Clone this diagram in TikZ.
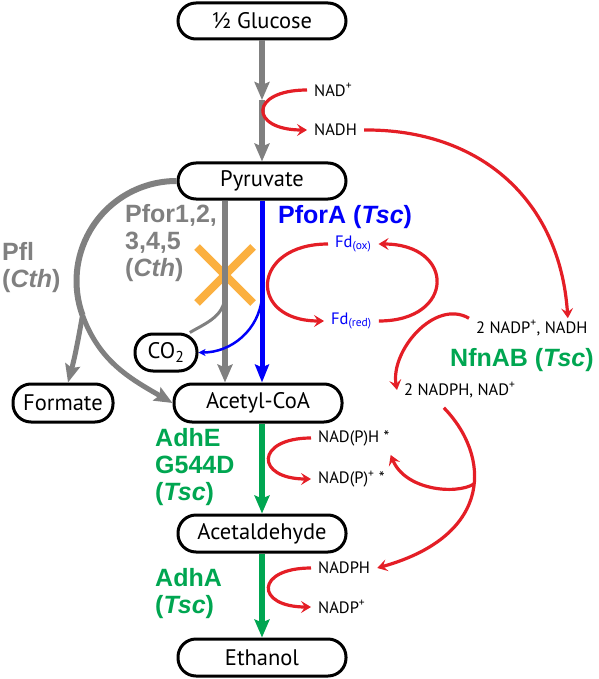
\documentclass[tikz,border=0pt]{standalone}
\usepackage{fontspec}
\setmainfont{PT Sans}
\newfontfamily\labfont{Liberation Sans}
\usetikzlibrary{arrows.meta,positioning}

\definecolor{pathgray}{RGB}{128,128,128}
\definecolor{redox}{RGB}{228,30,38}
\definecolor{pforblue}{RGB}{0,0,250}
\definecolor{adhgreen}{RGB}{0,166,81}
\definecolor{xorange}{RGB}{251,176,64}

\tikzset{
  metab/.style={draw, line width=3pt, rounded corners=18pt, fill=white,
    minimum width=168pt, minimum height=36pt, inner sep=0pt,
    font=\fontsize{22.5}{26}\selectfont},
  cofac/.style={inner xsep=7pt, inner ysep=2pt, anchor=west,
    font=\fontsize{16.5}{19}\selectfont},
  enzyme/.style={inner sep=0pt, align=left, anchor=west,
    font=\labfont\bfseries\fontsize{25}{27}\selectfont},
  thickgray/.style={draw=pathgray, line width=6pt,
    -{Stealth[length=18pt,width=15pt,inset=3pt]}},
  thickblue/.style={draw=pforblue, line width=5pt,
    -{Stealth[length=18pt,width=14pt,inset=3pt]}},
  thickgreen/.style={draw=adhgreen, line width=6pt,
    -{Stealth[length=18pt,width=15pt,inset=3pt]}},
  redarrow/.style={draw=redox, line width=3.2pt,
    -{Stealth[length=10pt,width=12pt,inset=4pt]}},
}

\begin{document}
\begin{tikzpicture}[x=1pt,y=1pt]
    \useasboundingbox (0,0) rectangle (598,-679);

    % Knock-out mark
    \node (xmark) at (225,-275) {};
    \draw[xorange, line width=8pt] ([shift={(-28,28)}]xmark.center) -- ([shift={(28,-28)}]xmark.center);
    \draw[xorange, line width=8pt] ([shift={(-28,-28)}]xmark.center) -- ([shift={(28,28)}]xmark.center);

    % Metabolites
    \node[metab] (glucose)  at (262,-21)    {½ Glucose};
    \node[metab] (pyruvate) at (262,-181)   {Pyruvate};
    \node[metab, minimum height=38pt] (acetyl) at (258,-403) {Acetyl-CoA};
    \node[metab, minimum width=100pt, minimum height=38pt] (formate) at (63,-403) {Formate};
    \node[metab, minimum width=62pt, minimum height=37pt] (co2) at (166,-352.5) {CO\textsubscript{2}};
    \node[metab, minimum height=37pt] (acetald) at (262,-533.5) {Acetaldehyde};
    \node[metab, minimum height=37pt] (ethanol) at (262,-657.5) {Ethanol};

    % Cofactors
    \node[cofac] (nadplus)  at (307,-90)  {NAD\textsuperscript{+}};
    \node[cofac] (nadh)     at (307,-130) {NADH};
    \node[cofac] (nadpnadh) at (469,-328) {2 NADP\textsuperscript{+}, NADH};
    \node[cofac] (nadphnad) at (397,-390) {2 NADPH, NAD\textsuperscript{+}};
    \node[cofac, text=pforblue] (fdox)  at (328,-244) {Fd\textsubscript{(ox)}};
    \node[cofac, text=pforblue] (fdred) at (324,-321) {Fd\textsubscript{(red)}};
    \node[cofac] (npH)   at (311,-438) {NAD(P)H *};
    \node[cofac] (npP)   at (311,-479) {NAD(P)\textsuperscript{+} *};
    \node[cofac] (nadph) at (311,-568) {NADPH};
    \node[cofac] (nadp)  at (311,-607) {NADP\textsuperscript{+}};

    % Enzymes
    \node[enzyme, text=pathgray] (pfl)  at (2,-268)   {Pfl\\(\textit{Cth})};
    \node[enzyme, text=pathgray] (pfor) at (125,-243) {Pfor1,2,\\3,4,5\\(\textit{Cth})};
    \node[enzyme, text=pforblue] (pfora) at (278,-217) {PforA (\textit{Tsc})};
    \node[enzyme, text=adhgreen] (nfnab) at (450,-360) {NfnAB (\textit{Tsc})};
    \node[enzyme, text=adhgreen] (adhe) at (155,-467)  {AdhE\\G544D\\(\textit{Tsc})};
    \node[enzyme, text=adhgreen] (adha) at (155,-593.5) {AdhA\\(\textit{Tsc})};

    % Glycolysis
    \coordinate (glcmid) at (262,-100);
    \draw[thickgray] (glucose) -- (glcmid);
    \draw[thickgray] (glcmid) -- (pyruvate);

    % Pyruvate to acetyl-CoA
    \coordinate (co2gray) at ([yshift=-22pt]xmark.center);
    \draw[thickgray] (pyruvate.south -| xmark) -- (acetyl.north -| xmark);
    \draw[pathgray, line width=3pt] (co2gray) to[out=265, in=30] (co2.40);
    \draw[thickblue] (pyruvate.south) -- (pyruvate.south |- acetyl.north);
    \draw[pforblue, line width=2.5pt, -{Stealth[length=7pt,width=7pt,inset=2pt]}]
        (pyruvate.south |- co2gray) to[out=265, in=0] (co2.east);

    % Pfl
    \draw[pathgray, line width=6pt] (pyruvate.west) arc[start angle=90, end angle=200, radius=100pt] coordinate (pflsplit);
    \draw[thickgray, line width=5pt] (pflsplit) to[out=260, in=75] ([xshift=5pt]formate.north);
    \draw[thickgray, line width=5pt] (pflsplit) to[out=290, in=150] (acetyl.west);

    % Ethanol formation
    \draw[thickgreen] (acetyl.south -| acetald.north) -- (acetald.north);
    \draw[thickgreen] (acetald) -- (ethanol);

    % Redox
    \draw[redarrow] (nadplus.west) .. controls +(-58,0) and +(-58,0) .. (nadh.west);
    \draw[redarrow] (npH.west) .. controls +(-56,0) and +(-56,0) .. (npP.west);
    \draw[redarrow] (nadph.west) .. controls +(-56,0) and +(-56,0) .. (nadp.west);
    \draw[redarrow] (nadh.east) .. controls (480,-129) and (560,-200) .. ([xshift=36pt]nadpnadh.north);
    \draw[redarrow] (fdox.west) .. controls +(-77,0) and +(-77,0) .. (fdred.west);
    \draw[redarrow] (fdred.east) .. controls +(77,0) and +(77,0) .. (fdox.east);
    \draw[redarrow] (nadpnadh.north west) to[out=150, in=100] (nadphnad.west);
    \draw[redarrow] ([xshift=-16pt,yshift=-8pt]nadphnad.south) .. controls (490,-455) and (495,-535) .. coordinate[pos=0.45] (nsplit) (nadph.east);
    \draw[redarrow] (nsplit) .. controls (455,-495) and (405,-490) .. ([xshift=-6pt,yshift=-7pt]npH.south east);
\end{tikzpicture}
\end{document}
